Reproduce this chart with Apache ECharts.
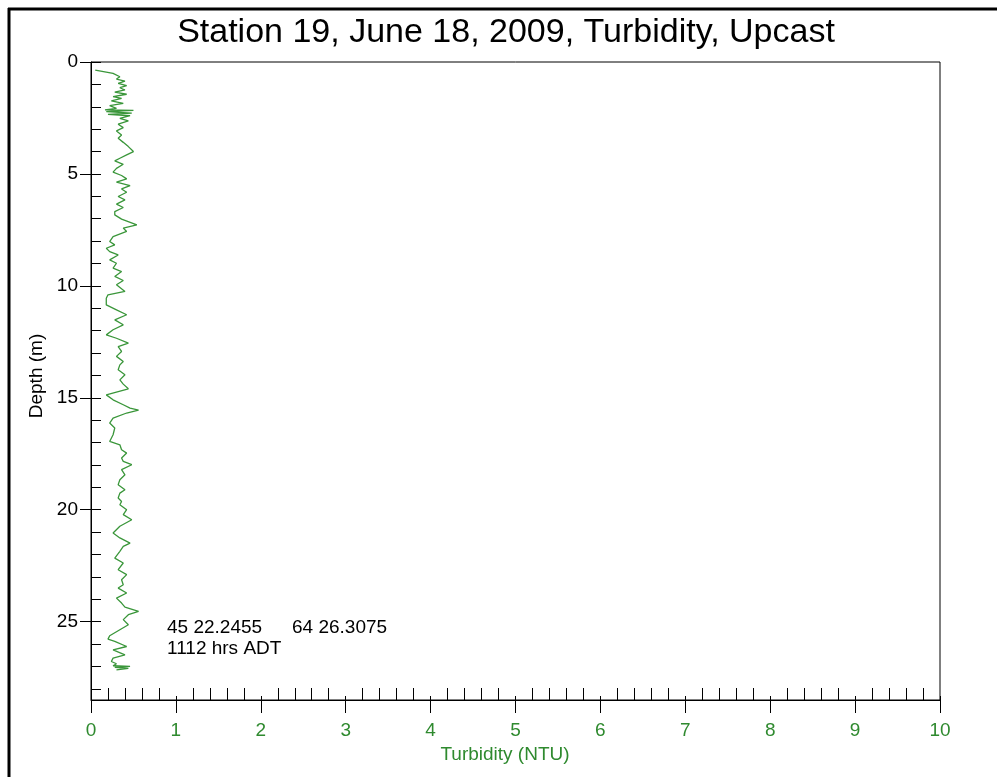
<!DOCTYPE html>
<html>
<head>
<meta charset="utf-8">
<title>Station 19 Turbidity Upcast</title>
<script src="https://cdn.jsdelivr.net/npm/echarts@6/dist/echarts.min.js"></script>
<style>
  html, body { margin: 0; padding: 0; background: #ffffff; }
  #chart { width: 997px; height: 777px; }
</style>
</head>
<body>
<div id="chart"></div>
<script>
// CTD upcast profile: depth (m) and turbidity (NTU), sampled down the cast
const depthM = [
  0.36, 0.51, 0.66, 0.76, 0.85, 0.95, 1.06, 1.15, 1.25, 1.35,
  1.44, 1.55, 1.62, 1.74, 1.85, 1.95, 2.07, 2.14, 2.16, 2.22,
  2.28, 2.34, 2.40, 2.52, 2.63, 2.78, 2.93, 3.08, 3.26, 3.41,
  3.59, 3.78, 4.00, 4.15, 4.30, 4.42, 4.57, 4.75, 4.92, 5.07,
  5.22, 5.37, 5.52, 5.67, 5.82, 6.01, 6.16, 6.35, 6.50, 6.68,
  6.83, 7.02, 7.28, 7.42, 7.57, 7.80, 8.02, 8.17, 8.32, 8.47,
  8.62, 8.84, 8.99, 9.21, 9.36, 9.58, 9.76, 9.95, 10.25, 10.40,
  10.55, 10.85, 11.07, 11.29, 11.52, 11.74, 11.96, 12.19, 12.34, 12.56,
  12.71, 12.93, 13.15, 13.38,
  13.53, 13.75, 13.97, 14.20, 14.39, 14.60, 14.87, 15.09, 15.31, 15.46,
  15.55, 15.68, 15.91, 16.13, 16.35, 16.65, 16.95, 17.10, 17.32, 17.47,
  17.69, 17.84, 17.99, 18.21, 18.44, 18.66, 18.88, 19.11, 19.26, 19.48,
  19.63, 19.78, 20.00, 20.22, 20.45,
  20.74, 21.04, 21.26, 21.49, 21.64, 21.86, 22.16, 22.38, 22.68, 22.90,
  23.13, 23.35, 23.50, 23.72, 23.95, 24.17, 24.35, 24.54, 24.69, 24.91,
  25.14, 25.36, 25.63, 25.78, 25.88, 26.11, 26.26, 26.48, 26.63, 26.78,
  26.88, 26.97, 27.00, 27.04, 27.09, 27.15
];

const turbidityNTU = [
  0.05, 0.26, 0.34, 0.30, 0.40, 0.32, 0.42, 0.34, 0.40, 0.28,
  0.42, 0.26, 0.36, 0.24, 0.38, 0.22, 0.30, 0.165, 0.50, 0.18,
  0.48, 0.20, 0.46, 0.34, 0.44, 0.32, 0.38, 0.30, 0.36, 0.32,
  0.38, 0.44, 0.50, 0.42, 0.34, 0.28, 0.38, 0.30, 0.26, 0.36,
  0.42, 0.30, 0.46, 0.36, 0.42, 0.32, 0.40, 0.30, 0.38, 0.28,
  0.28, 0.36, 0.54, 0.38, 0.42, 0.26, 0.22, 0.28, 0.18, 0.22,
  0.32, 0.22, 0.30, 0.26, 0.36, 0.28, 0.38, 0.30, 0.40, 0.20,
  0.18, 0.18, 0.30, 0.42, 0.28, 0.38, 0.26, 0.18, 0.30, 0.44,
  0.32, 0.36, 0.30, 0.38,
  0.34, 0.32, 0.40, 0.34, 0.38, 0.44, 0.18, 0.26, 0.38, 0.46,
  0.56, 0.42, 0.26, 0.22, 0.28, 0.26, 0.22, 0.34, 0.36, 0.42,
  0.36, 0.38, 0.48, 0.36, 0.40, 0.34, 0.32, 0.40, 0.34, 0.32,
  0.36, 0.34, 0.42, 0.38, 0.48,
  0.34, 0.26, 0.34, 0.46, 0.38, 0.34, 0.28, 0.38, 0.32, 0.42,
  0.36, 0.38, 0.32, 0.42, 0.30, 0.36, 0.40, 0.56, 0.44, 0.38,
  0.44, 0.34, 0.22, 0.20, 0.28, 0.42, 0.26, 0.40, 0.26, 0.24,
  0.30, 0.26, 0.46, 0.28, 0.44, 0.30
];

// Axis tick labels
const depthTickLabels = [0, 5, 10, 15, 20, 25];
const turbidityTickLabels = [0, 1, 2, 3, 4, 5, 6, 7, 8, 9, 10];

const titleText = 'Station 19, June 18, 2009, Turbidity, Upcast';
const latitudeText = '45 22.2455';
const longitudeText = '64 26.3075';
const timeText = '1112 hrs ADT';

const GREEN_TEXT = '#2f8a2f';
const GREEN_LINE = '#3a963a';
const FONT = '"Liberation Sans", Arial, sans-serif';

// minor tick positions
const depthMinorTicks = [];
for (let d = 0; d <= 28; d++) depthMinorTicks.push(d);
const turbMinorTicks = [];
for (let i = 0; i <= 50; i++) {
  if (i % 5 !== 0) turbMinorTicks.push(+(i * 0.2).toFixed(1));
}

const profile = depthM.map((d, i) => [turbidityNTU[i], d]);

const chart = echarts.init(document.getElementById('chart'), null, { renderer: 'canvas' });

// Three stacked grids share one rectangle so each axis layer can carry its own tick style
const rect = { left: 91, top: 62, right: 57, bottom: 77 };
const grids = [
  Object.assign({ show: true, borderColor: '#000', borderWidth: 1, backgroundColor: 'transparent' }, rect),
  Object.assign({ show: false }, rect),
  Object.assign({ show: false }, rect)
];

const baseX = { type: 'value', min: 0, max: 10, position: 'bottom', splitLine: { show: false } };
const baseY = { type: 'value', min: 0, max: 28.5, inverse: true, position: 'left', splitLine: { show: false } };
const hiddenLine = { show: false, onZero: false };

chart.setOption({
  animation: false,
  backgroundColor: '#ffffff',
  grid: grids,
  xAxis: [
    Object.assign({}, baseX, {
      gridIndex: 0,
      name: 'Turbidity (NTU)',
      nameLocation: 'middle',
      nameGap: 38,
      nameTextStyle: { color: GREEN_TEXT, fontFamily: FONT, fontSize: 19, padding: [0, 21, 0, 0] },
      axisLine: { show: true, onZero: false, lineStyle: { color: '#000', width: 1 } },
      axisTick: { show: true, inside: false, length: 13, lineStyle: { color: '#000' }, customValues: turbidityTickLabels },
      axisLabel: { show: true, margin: 21, color: GREEN_TEXT, fontFamily: FONT, fontSize: 19, customValues: turbidityTickLabels }
    }),
    Object.assign({}, baseX, {
      gridIndex: 1,
      axisLine: hiddenLine,
      axisTick: { show: true, inside: true, length: 12, lineStyle: { color: '#000' }, customValues: turbMinorTicks },
      axisLabel: { show: false }
    }),
    Object.assign({}, baseX, {
      gridIndex: 2,
      axisLine: hiddenLine,
      axisTick: { show: true, inside: true, length: 4, lineStyle: { color: '#000' }, customValues: turbidityTickLabels },
      axisLabel: { show: false }
    })
  ],
  yAxis: [
    Object.assign({}, baseY, {
      gridIndex: 0,
      name: 'Depth (m)',
      nameLocation: 'middle',
      nameGap: 44,
      nameTextStyle: { color: '#000', fontFamily: FONT, fontSize: 19, padding: [0, 0, 0, 10] },
      axisLine: { show: true, onZero: false, lineStyle: { color: '#000', width: 1 } },
      axisTick: { show: true, inside: false, length: 11, lineStyle: { color: '#000' }, customValues: depthTickLabels },
      axisLabel: { show: true, margin: 13, color: '#000', fontFamily: FONT, fontSize: 19, customValues: depthTickLabels }
    }),
    Object.assign({}, baseY, {
      gridIndex: 1,
      axisLine: hiddenLine,
      axisTick: { show: true, inside: true, length: 10, lineStyle: { color: '#000' }, customValues: depthMinorTicks },
      axisLabel: { show: false }
    }),
    Object.assign({}, baseY, {
      gridIndex: 2,
      axisLine: hiddenLine,
      axisTick: { show: false },
      axisLabel: { show: false }
    })
  ],
  series: [{
    type: 'line',
    xAxisIndex: 0,
    yAxisIndex: 0,
    data: profile,
    showSymbol: false,
    symbol: 'none',
    smooth: false,
    lineStyle: { color: GREEN_LINE, width: 1.3 },
    z: 3
  }],
  graphic: [
    {
      type: 'text',
      x: 506, y: 33,
      style: { text: titleText, fill: '#000', font: '34px ' + FONT, textAlign: 'center', textVerticalAlign: 'middle' }
    },
    {
      type: 'text',
      x: 167, y: 628,
      style: { text: latitudeText, fill: '#000', font: '19px ' + FONT, textAlign: 'left', textVerticalAlign: 'middle' }
    },
    {
      type: 'text',
      x: 292, y: 628,
      style: { text: longitudeText, fill: '#000', font: '19px ' + FONT, textAlign: 'left', textVerticalAlign: 'middle' }
    },
    {
      type: 'text',
      x: 167, y: 649,
      style: { text: timeText, fill: '#000', font: '19px ' + FONT, textAlign: 'left', textVerticalAlign: 'middle' }
    },
    // page frame: left and top edges
    { type: 'line', shape: { x1: 9, y1: 8, x2: 9, y2: 777 }, style: { stroke: '#000', lineWidth: 3 } },
    { type: 'line', shape: { x1: 8, y1: 9, x2: 997, y2: 9 }, style: { stroke: '#000', lineWidth: 3 } }
  ]
});
</script>
</body>
</html>
